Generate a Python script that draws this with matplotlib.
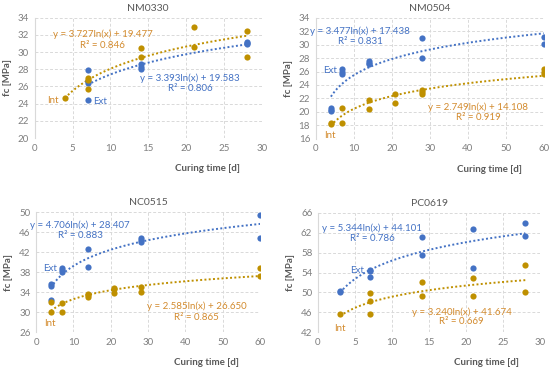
import numpy as np
import matplotlib
matplotlib.use("Agg")
import matplotlib.pyplot as plt

plt.rcParams["font.family"] = ["Lato", "DejaVu Sans"]

BLUE = "#4472C4"
GOLD = "#BF9000"
ORANGE_TXT = "#D38B2E"
GRAY = "#595959"

# NM0330
nm0330_ext_x = [7, 7, 7, 7, 14, 14, 14, 28, 28, 28]
nm0330_ext_y = [27.9, 26.6, 26.4, 24.4, 28.6, 28.3, 28.0, 31.2, 31.0, 30.9]
nm0330_int_x = [4, 7, 7, 7, 14, 14, 21, 21, 28, 28]
nm0330_int_y = [24.6, 27.0, 26.8, 25.7, 30.5, 29.4, 32.9, 30.6, 32.4, 29.4]
nm0330_ext_fit = (3.393, 19.583)
nm0330_int_fit = (3.727, 19.477)

# NM0504
nm0504_ext_x = [4, 4, 4, 7, 7, 7, 14, 14, 14, 28, 28, 60, 60]
nm0504_ext_y = [20.5, 20.3, 20.1, 26.4, 26.0, 25.7, 27.5, 27.3, 27.1, 31.0, 28.0, 31.2, 30.1]
nm0504_int_x = [4, 4, 7, 7, 14, 14, 21, 21, 28, 28, 28, 60, 60, 60]
nm0504_int_y = [18.3, 18.2, 20.5, 18.3, 21.7, 20.4, 22.7, 21.3, 23.3, 23.0, 22.7, 26.4, 26.0, 25.6]
nm0504_ext_fit = (3.477, 17.438)
nm0504_int_fit = (2.749, 14.108)

# NC0515
nc0515_ext_x = [4, 4, 4, 7, 7, 7, 14, 14, 28, 28, 28, 60, 60]
nc0515_ext_y = [35.6, 35.3, 32.4, 38.9, 38.4, 38.0, 42.6, 39.0, 44.8, 44.4, 44.0, 49.5, 44.9]
nc0515_int_x = [4, 4, 7, 7, 14, 14, 14, 21, 21, 21, 28, 28, 60, 60]
nc0515_int_y = [32.1, 30.0, 31.9, 30.1, 33.7, 33.4, 33.1, 34.9, 34.7, 33.9, 35.0, 34.0, 38.8, 37.2]
nc0515_ext_fit = (4.706, 28.407)
nc0515_int_fit = (2.585, 26.650)

# PC0619
pc0619_ext_x = [3, 3, 7, 7, 7, 14, 14, 21, 21, 28, 28]
pc0619_ext_y = [50.3, 50.1, 54.5, 54.4, 53.2, 61.2, 57.5, 62.7, 55.0, 64.0, 61.3]
pc0619_int_x = [3, 7, 7, 7, 14, 14, 21, 21, 28, 28]
pc0619_int_y = [45.7, 49.8, 48.2, 45.6, 52.0, 49.2, 52.8, 49.2, 55.5, 50.0]
pc0619_ext_fit = (5.344, 44.101)
pc0619_int_fit = (3.240, 41.674)

panels = [
    dict(title="NM0330", pos=[0.063, 0.626, 0.413, 0.326],
         ext=(nm0330_ext_x, nm0330_ext_y, nm0330_ext_fit),
         int_=(nm0330_int_x, nm0330_int_y, nm0330_int_fit),
         xlim=(0, 30), xstep=5, ylim=(20, 34), ystep=2,
         ext_eq=(20.5, 27.0, 25.8), int_eq=(9.0, 32.1, 30.8),
         ext_lbl=(8.6, 24.2), int_lbl=(2.4, 24.4)),
    dict(title="NM0504", pos=[0.574, 0.624, 0.4145, 0.328],
         ext=(nm0504_ext_x, nm0504_ext_y, nm0504_ext_fit),
         int_=(nm0504_int_x, nm0504_int_y, nm0504_int_fit),
         xlim=(0, 60), xstep=10, ylim=(16, 34), ystep=2,
         ext_eq=(11.7, 32.0, 30.4), int_eq=(42.8, 20.7, 19.2),
         ext_lbl=(3.7, 26.1), int_lbl=(3.7, 16.5)),
    dict(title="NC0515", pos=[0.0655, 0.100, 0.4075, 0.3247],
         ext=(nc0515_ext_x, nc0515_ext_y, nc0515_ext_fit),
         int_=(nc0515_int_x, nc0515_int_y, nc0515_int_fit),
         xlim=(0, 60), xstep=10, ylim=(26, 50), ystep=4,
         ext_eq=(11.8, 47.45, 45.25), int_eq=(43.0, 31.1, 28.9),
         ext_lbl=(3.75, 38.8), int_lbl=(3.75, 27.75)),
    dict(title="PC0619", pos=[0.578, 0.100, 0.404, 0.3228],
         ext=(pc0619_ext_x, pc0619_ext_y, pc0619_ext_fit),
         int_=(pc0619_int_x, pc0619_int_y, pc0619_int_fit),
         xlim=(0, 30), xstep=5, ylim=(42, 66), ystep=4,
         ext_eq=(7.3, 62.9, 60.76), int_eq=(19.4, 46.1, 44.2),
         ext_lbl=(5.25, 54.5), int_lbl=(3.0, 42.75)),
]

fig = plt.figure(figsize=(5.5, 3.69), dpi=100)

for p in panels:
    ax = fig.add_axes(p["pos"])
    ax.set_xlim(*p["xlim"])
    ax.set_ylim(*p["ylim"])
    ax.set_xticks(np.arange(p["xlim"][0], p["xlim"][1] + 0.1, p["xstep"]))
    ax.set_yticks(np.arange(p["ylim"][0], p["ylim"][1] + 0.1, p["ystep"]))
    ax.grid(True, color="#D9D9D9", linestyle=(0, (3, 2)), linewidth=0.7)
    ax.set_axisbelow(True)
    for side in ["top", "right", "bottom"]:
        ax.spines[side].set_visible(False)
    ax.spines["left"].set_color("#D9D9D9")
    ax.spines["left"].set_linewidth(0.8)
    ax.tick_params(length=0, labelsize=7, labelcolor=GRAY, pad=4)
    for lab in ax.get_xticklabels() + ax.get_yticklabels():
        lab.set_color("#7F7F7F")

    for (xs, ys, (a, b)), pc, lc in [(p["ext"], BLUE, BLUE), (p["int_"], GOLD, GOLD)]:
        ax.scatter(xs, ys, s=20, color=pc, zorder=3, linewidths=0)
        xx = np.linspace(min(xs), max(xs), 200)
        ax.plot(xx, a * np.log(xx) + b, color=lc, linestyle=(0, (1, 1.2)),
                linewidth=1.4, zorder=2)

    a, b = p["ext"][2]
    ex, ey1, ey2 = p["ext_eq"]
    ax.text(ex, ey1, f"y = {a:.3f}ln(x) + {b:.3f}", color=BLUE, fontsize=7,
            ha="center", va="center")
    ax.text(ex, ey2, "R² = " + {"NM0330": "0.806", "NM0504": "0.831",
                                 "NC0515": "0.883", "PC0619": "0.786"}[p["title"]],
            color=BLUE, fontsize=7, ha="center", va="center")
    a, b = p["int_"][2]
    ix, iy1, iy2 = p["int_eq"]
    ax.text(ix, iy1, f"y = {a:.3f}ln(x) + {b:.3f}", color=ORANGE_TXT, fontsize=7,
            ha="center", va="center")
    ax.text(ix, iy2, "R² = " + {"NM0330": "0.846", "NM0504": "0.919",
                                 "NC0515": "0.865", "PC0619": "0.669"}[p["title"]],
            color=ORANGE_TXT, fontsize=7, ha="center", va="center")
    ax.text(*p["ext_lbl"], "Ext", color=BLUE, fontsize=7, ha="center", va="center")
    ax.text(*p["int_lbl"], "Int", color=ORANGE_TXT, fontsize=7, ha="center", va="center")

    ax.set_title(p["title"], fontsize=7.5, color=GRAY, pad=5)
    ax.set_ylabel("fc [MPa]", fontsize=7, color=GRAY, fontweight="bold", labelpad=4)
    ax.text(0.76, -0.255, "Curing time [d]", transform=ax.transAxes, fontsize=7,
            color=GRAY, fontweight="bold", ha="center", va="center")

fig.savefig("out.png", dpi=100)
